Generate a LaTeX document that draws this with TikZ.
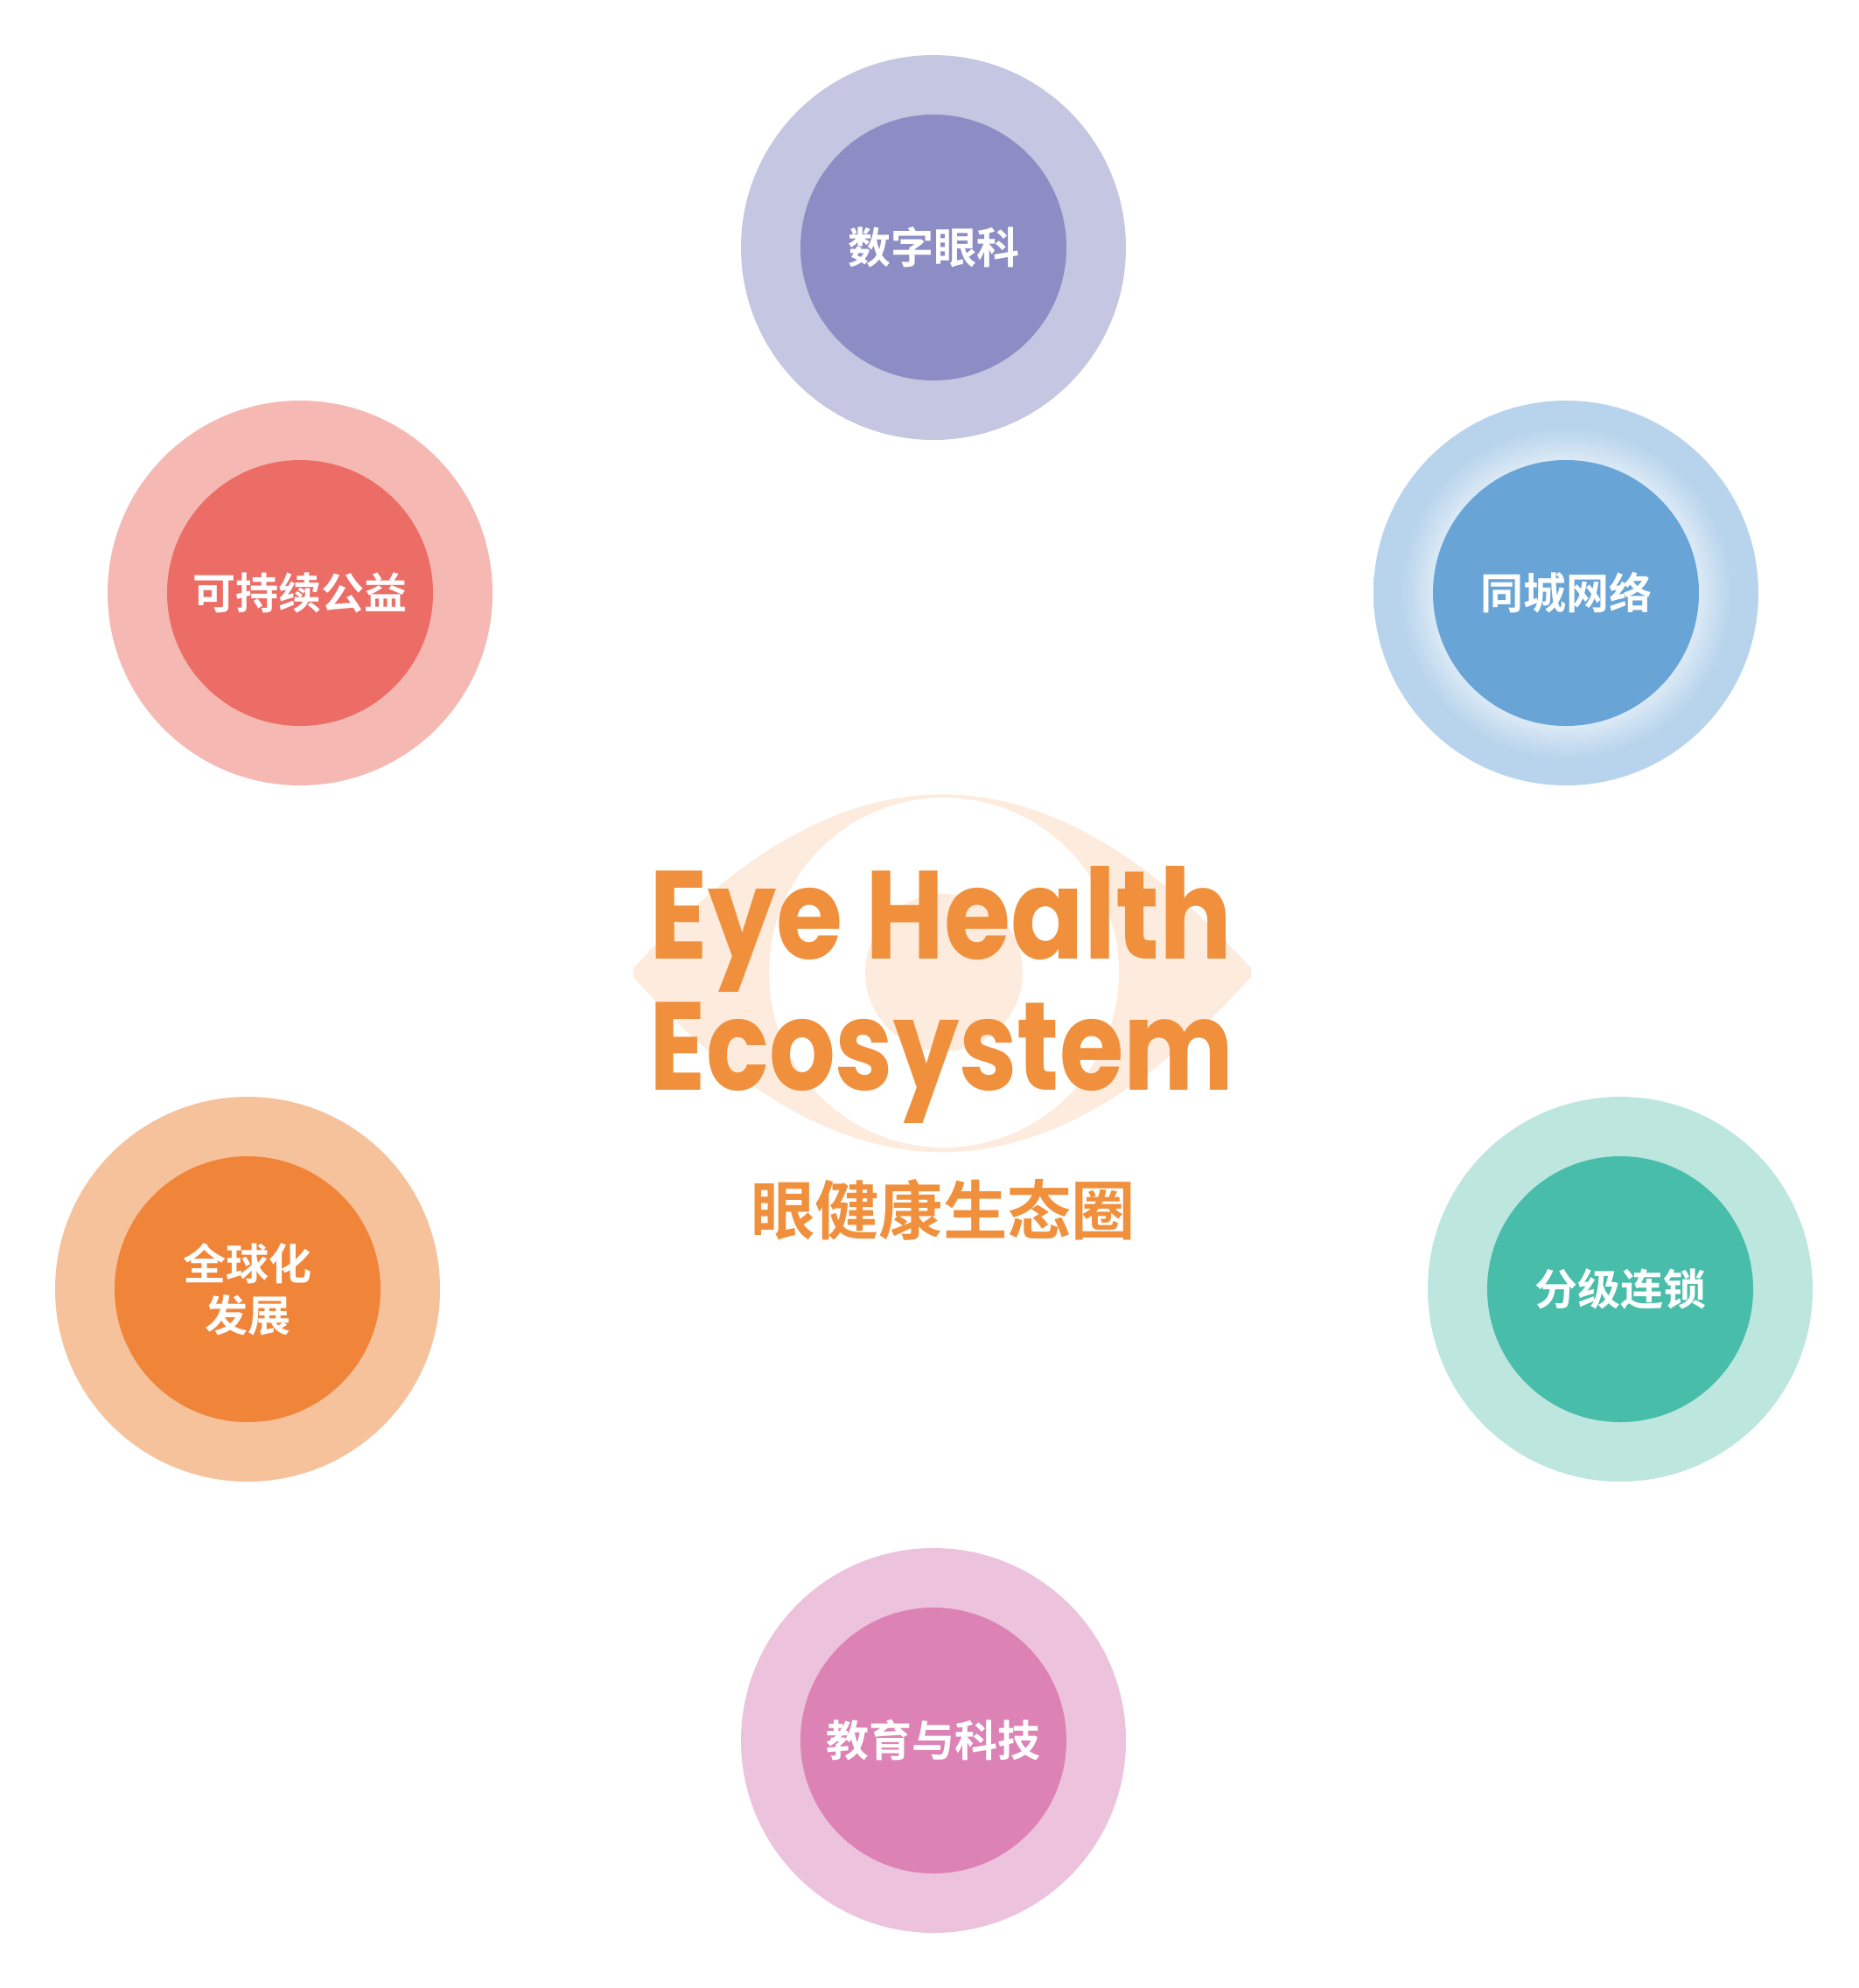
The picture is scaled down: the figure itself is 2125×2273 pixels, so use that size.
\documentclass[tikz,border=0pt]{standalone}
\usepackage{fontspec}
\setmainfont{Noto Sans CJK SC}
\newfontfamily\cjkbold{Noto Sans CJK SC Bold}
\newfontfamily\titlefont{Poppins}
\usetikzlibrary{positioning}

\definecolor{digitring}{RGB}{197,198,226}
\definecolor{digitcore}{RGB}{139,141,196}
\definecolor{cityring}{RGB}{184,212,236}
\definecolor{citycore}{RGB}{105,164,215}
\definecolor{charityring}{RGB}{245,184,179}
\definecolor{charitycore}{RGB}{236,109,102}
\definecolor{globalring}{RGB}{246,194,156}
\definecolor{globalcore}{RGB}{240,133,58}
\definecolor{chainring}{RGB}{189,230,223}
\definecolor{chaincore}{RGB}{72,189,170}
\definecolor{eduring}{RGB}{237,194,220}
\definecolor{educore}{RGB}{220,130,180}
\definecolor{eyeorange}{RGB}{240,144,60}
\definecolor{eyepeach}{RGB}{253,235,221}

\pgfdeclareradialshading{cityhalo}{\pgfpoint{0bp}{0bp}}{color(0bp)=(citycore); color(17.2bp)=(white!50!cityring); color(21.5bp)=(cityring); color(25bp)=(cityring); color(50bp)=(cityring)}

\tikzset{
  ring/.style={circle, inner sep=0pt, minimum size=132pt},
  core/.style={circle, inner sep=0pt, minimum size=91.2pt, text=white, align=center, font=\cjkbold\fontsize{14.7}{17.7}\selectfont},
  title/.style={anchor=base west, inner sep=0pt, text=eyeorange, font=\titlefont\bfseries\fontsize{43}{45}\selectfont}
}

\begin{document}
\begin{tikzpicture}[x=0.3pt,y=0.3pt,yscale=-1,xscale=1]
\useasboundingbox (0,0) rectangle (2125,2273);

%Shape: Eye
\fill [eyepeach] (724,1107) .. controls (964,842) and (1190,842) .. (1430,1107) -- (1430,1117) .. controls (1190,1384) and (964,1384) .. (724,1117) -- cycle ;
%Shape: Iris
\fill [white] (1079,1112) circle [radius=200] ;
%Shape: Pupil
\fill [eyepeach] (1079,1112) circle [radius=90] ;

% Text Node
\node (eyeline) [title] at (742,1096) {\scalebox{0.86}[1]{Eye Health}};
% Text Node
\node (ecoline) [title] at (742,1246) {\scalebox{0.83}[1]{Ecosystem}};
% Text Node
\node (eyezh) [inner sep=0pt, text=eyeorange, font=\cjkbold\fontsize{22}{26}\selectfont] at (1078,1383) {眼健康生态圈};

%Shape: Circle
\node (digitring) [ring, fill=digitring] at (1067,283) {};
\node (digit) [core, fill=digitcore] at (digitring) {数字眼科};
%Shape: Circle
\node (cityring) [ring, shading=cityhalo] at (1790,678) {};
\node (city) [core, fill=citycore] at (cityring) {同城网络};
%Shape: Circle
\node (charityring) [ring, fill=charityring] at (343,678) {};
\node (charity) [core, fill=charitycore] at (charityring) {可持续公益};
%Shape: Circle
\node (globalring) [ring, fill=globalring] at (283,1474) {};
\node (global) [core, fill=globalcore] at (globalring) {全球化\\发展};
%Shape: Circle
\node (chainring) [ring, fill=chainring] at (1852,1474) {};
\node (chain) [core, fill=chaincore] at (chainring) {分级连锁};
%Shape: Circle
\node (edring) [ring, fill=eduring] at (1067,1990) {};
\node (edu) [core, fill=educore] at (edring) {教育与科技};
\end{tikzpicture}
\end{document}
